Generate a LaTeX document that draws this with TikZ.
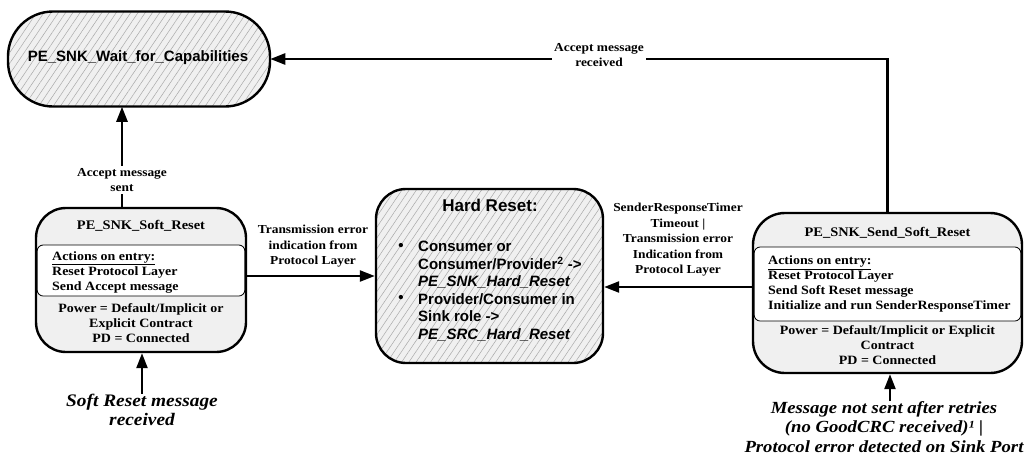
\documentclass[tikz,border=0pt]{standalone}
\usepackage{fontspec}
\setmainfont{Liberation Serif}[FakeStretch=1.1]
\newfontfamily\sansf{Liberation Sans}
\usetikzlibrary{arrows.meta,patterns.meta}
\definecolor{boxfill}{HTML}{F0F0F0}
\definecolor{hatch}{HTML}{A8A8A8}

\begin{document}
\begin{tikzpicture}[x=1pt,y=-1pt,
  state/.style={draw, line width=2.4pt, inner sep=0pt, fill=boxfill},
  hatched/.style={draw, line width=2.4pt, inner sep=0pt,
    preaction={fill=boxfill},
    pattern={Lines[angle=56,distance=6pt,line width=0.5pt]}, pattern color=hatch},
  actbox/.style={draw, line width=0.8pt, fill=white, rounded corners=6pt, inner sep=0pt},
  ttl/.style={font={\fontsize{13.1}{15}\selectfont\bfseries}, inner sep=0pt},
  body/.style={font={\fontsize{12.7}{15}\selectfont\bfseries}, inner sep=0pt},
  lbl/.style={font={\fontsize{12.2}{15.5}\selectfont\bfseries}, align=center, inner sep=2pt},
  trig/.style={font={\fontsize{17.6}{19.5}\selectfont\bfseries\itshape}, align=center, inner sep=0pt},
  hrtxt/.style={font={\fontsize{15}{17.5}\selectfont\sansf\bfseries}, align=left, inner sep=0pt},
  arr/.style={line width=2.4pt, -{Triangle[length=15pt,width=11pt]}}
]
\useasboundingbox (0,0) rectangle (1026,464);

% states
\node[hatched, rounded corners=45pt, minimum width=262pt, minimum height=95pt] (wait) at (139,59) {};
\node[font={\fontsize{15}{17}\selectfont\sansf\bfseries}] (waitT) at (138,58) {PE\_SNK\_Wait\_for\_Capabilities};

\node[state, rounded corners=30pt, minimum width=210pt, minimum height=144pt] (soft) at (141,280) {};
\node[actbox, minimum width=207.6pt, minimum height=51pt] (softAct) at (141,270.5) {};
\node[ttl] (softT) at (141,226) {PE\_SNK\_Soft\_Reset};
\node[body, align=left, anchor=west] (softA) at (52,272) {\underline{Actions on entry:}\\Reset Protocol Layer\\Send Accept message};
\node[body, align=center] (softP) at (141,323) {Power = Default/Implicit or\\Explicit Contract\\PD = Connected};

\node[hatched, rounded corners=30pt, minimum width=227pt, minimum height=174pt] (hard) at (489.5,276) {};
\node[font={\fontsize{17}{19}\selectfont\sansf\bfseries}, inner sep=0pt] (hardT) at (490,205) {Hard Reset:};
\node[hrtxt] (hb1) at (401,247) {•};
\node[hrtxt, anchor=west] (hi1) at (418,265) {Consumer or\\Consumer/Provider\textsuperscript{2} ->\\\textit{PE\_SNK\_Hard\_Reset}};
\node[hrtxt] (hb2) at (401,299) {•};
\node[hrtxt, anchor=west] (hi2) at (418,317) {Provider/Consumer in\\Sink role ->\\\textit{PE\_SRC\_Hard\_Reset}};

\node[state, rounded corners=32pt, minimum width=269pt, minimum height=160pt] (send) at (887.5,293) {};
\node[actbox, minimum width=266.6pt, minimum height=74pt] (sendAct) at (887.5,284) {};
\node[ttl] (sendT) at (887.5,233) {PE\_SNK\_Send\_Soft\_Reset};
\node[body, align=left, anchor=west] (sendA) at (768,284) {\underline{Actions on entry:}\\Reset Protocol Layer\\Send Soft Reset message\\Initialize and run SenderResponseTimer};
\node[body, align=center] (sendP) at (887.5,345) {Power = Default/Implicit or Explicit\\Contract\\PD = Connected};

% triggers
\node[trig] (softMsg) at (142,410) {Soft Reset message\\received};
\node[trig, font={\fontsize{17}{19.5}\selectfont\bfseries\itshape}] (sendMsg) at (884,427) {Message not sent after retries\\(no GoodCRC received)¹ |\\Protocol error detected on Sink Port};

% transitions
\draw[arr] ([xshift=-19pt]soft.north) -- ([xshift=-19pt]soft.north |- wait.south);
\draw[arr] (soft.east |- hard.west) -- (hard.west);
\draw[arr] ([yshift=6pt]send.west) -- ([yshift=6pt]send.west -| hard.east);
\draw[arr] (send.north) |- (wait.east);
\draw[arr] (softMsg.north) -- (softMsg.north |- soft.south);
\draw[arr] ([xshift=6pt]sendMsg.north) -- ([xshift=6pt]sendMsg.north |- send.south);

% transition labels
\node[lbl, fill=white] (lAcc) at (122,180) {Accept message\\sent};
\node[lbl, fill=white] (lRcv) at (599,55) {Accept message\\received};
\node[lbl] (lTx) at (313,246.5) {Transmission error\\indication from\\Protocol Layer};
\node[lbl] (lTmo) at (678,240) {SenderResponseTimer\\Timeout |\\Transmission error\\Indication from\\Protocol Layer};
\end{tikzpicture}
\end{document}
